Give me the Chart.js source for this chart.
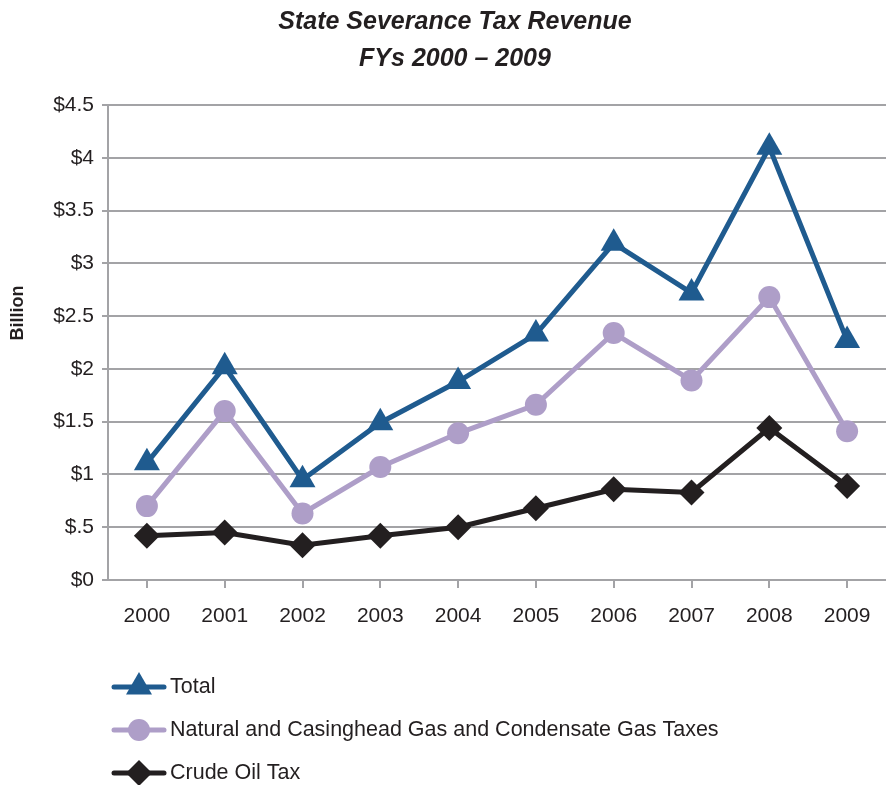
<!DOCTYPE html>
<html>
<head>
<meta charset="utf-8">
<script src="https://cdn.jsdelivr.net/npm/chart.js@4.4.1/dist/chart.umd.min.js"></script>
<style>
  html, body { margin: 0; padding: 0; background: #fff; }
  #wrap { width: 886px; height: 785px; position: relative; }
</style>
</head>
<body>
<div id="wrap"><canvas id="chart" width="886" height="785"></canvas></div>
<script>
const YEARS = ['2000','2001','2002','2003','2004','2005','2006','2007','2008','2009'];
const TOTAL = [1.11, 2.02, 0.95, 1.49, 1.88, 2.33, 3.19, 2.72, 4.10, 2.27];
const GAS   = [0.70, 1.60, 0.63, 1.07, 1.39, 1.66, 2.34, 1.89, 2.68, 1.41];
const OIL   = [0.42, 0.45, 0.33, 0.42, 0.50, 0.68, 0.86, 0.83, 1.44, 0.89];
const Y_TICKS = ['$0','$.5','$1','$1.5','$2','$2.5','$3','$3.5','$4','$4.5'];

const TITLE = ['State Severance Tax Revenue', 'FYs 2000 \u2013 2009'];
const Y_TITLE = 'Billion';
const FONT = '"Liberation Sans", Arial, sans-serif';
const GRID = '#a3a3a6';

const SERIES = [
    { label: 'Total', data: TOTAL, color: '#1f5b8f', style: 'triangle', radius: 15 },
    { label: 'Natural and Casinghead Gas and Condensate Gas Taxes', data: GAS, color: '#ae9ec8', style: 'circle', radius: 11 },
    { label: 'Crude Oil Tax', data: OIL, color: '#231f20', style: 'rectRot', radius: 13 },
];

// title, axis title and legend drawn by hand so they sit where the original has them
const extras = {
    id: 'extras',
    afterDraw(chart) {
        const ctx = chart.ctx;
        ctx.save();
        ctx.fillStyle = '#231f20';
        ctx.textAlign = 'center';
        ctx.textBaseline = 'middle';
        ctx.font = 'italic bold 25px ' + FONT;
        ctx.fillText(TITLE[0], 455, 22);
        ctx.fillText(TITLE[1], 455, 59);

        ctx.font = 'bold 18px ' + FONT;
        ctx.translate(18, 313);
        ctx.rotate(-Math.PI / 2);
        ctx.fillText(Y_TITLE, 0, 0);
        ctx.restore();

        ctx.save();
        chart.data.datasets.forEach((ds, i) => {
            const y = 687 + i * 43;
            ctx.strokeStyle = ds.borderColor;
            ctx.lineWidth = 5;
            ctx.lineCap = 'round';
            ctx.beginPath();
            ctx.moveTo(114, y);
            ctx.lineTo(164, y);
            ctx.stroke();
            ctx.fillStyle = ds.borderColor;
            Chart.helpers.drawPoint(ctx, { pointStyle: ds.pointStyle, radius: ds.pointRadius, borderWidth: 0 }, 139, y);
            ctx.fillStyle = '#231f20';
            ctx.font = '21.5px ' + FONT;
            ctx.textAlign = 'left';
            ctx.textBaseline = 'middle';
            ctx.fillText(ds.label, 170, y);
        });
        ctx.restore();
    }
};

new Chart(document.getElementById('chart'), {
    type: 'line',
    data: {
        labels: YEARS,
        datasets: SERIES.map(s => ({
            label: s.label,
            data: s.data,
            borderColor: s.color,
            backgroundColor: s.color,
            pointBackgroundColor: s.color,
            pointBorderColor: s.color,
            pointBorderWidth: 0,
            pointStyle: s.style,
            pointRadius: s.radius,
            pointHoverRadius: s.radius,
            borderWidth: 5,
            tension: 0,
        })),
    },
    options: {
        responsive: false,
        animation: false,
        layout: { autoPadding: false, padding: { top: 105, left: 0, right: 0, bottom: 0 } },
        plugins: {
            legend: { display: false },
            title: { display: false },
            tooltip: { enabled: false },
        },
        scales: {
            x: {
                offset: true,
                grid: { display: true, drawOnChartArea: false, drawTicks: true, tickLength: 8, offset: false, color: GRID, lineWidth: 2 },
                border: { display: true, color: GRID, width: 2 },
                ticks: { color: '#231f20', font: { family: FONT, size: 21 }, padding: 16, maxRotation: 0 },
                afterFit: s => { s.height = 205; s.paddingLeft = 0; s.paddingRight = 0; },
            },
            y: {
                min: 0,
                max: 4.5,
                grid: { color: GRID, lineWidth: 2, tickLength: 6 },
                border: { display: true, color: GRID, width: 2 },
                ticks: {
                    stepSize: 0.5,
                    color: '#231f20',
                    font: { family: FONT, size: 21 },
                    padding: 8,
                    callback: (v, i) => Y_TICKS[i],
                },
                afterFit: s => { s.width = 108; s.paddingTop = 0; s.paddingBottom = 0; },
            },
        },
    },
    plugins: [extras],
});
</script>
</body>
</html>
